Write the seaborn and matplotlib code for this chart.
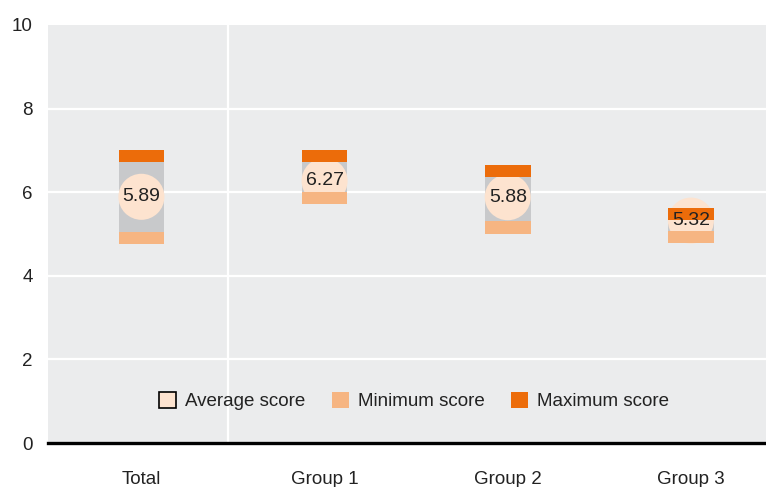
import matplotlib
matplotlib.use("Agg")
import matplotlib.pyplot as plt
import seaborn as sns
import pandas as pd
from matplotlib.patches import Patch

# Values
groups = ["Total", "Group 1", "Group 2", "Group 3"]
avg_score = [5.89, 6.27, 5.88, 5.32]
min_score = [4.76, 5.72, 5.01, 4.79]
max_score = [7.01, 7.01, 6.65, 5.62]

df = pd.DataFrame({"group": groups, "avg": avg_score, "min": min_score, "max": max_score})

sns.set_theme(style="white")
plt.rcParams["font.family"] = ["Liberation Sans", "DejaVu Sans"]

c_bg = "#ebeced"
c_range = "#c8c9cb"
c_avg = "#fde3cf"
c_min = "#f6b582"
c_max = "#ec6c0a"
c_text = "#222222"
band = 0.29
width = 0.25

fig = plt.figure(figsize=(7.66, 4.87), dpi=100)
ax = fig.add_axes([48 / 766, 44 / 487, 718 / 766, 418 / 487])
ax.set_facecolor(c_bg)

# range bars (min to max)
ax.bar(df["group"], df["max"] - df["min"], bottom=df["min"], width=width,
       color=c_range, edgecolor="none", linewidth=0, zorder=2)

# average circles
sns.scatterplot(data=df, x="group", y="avg", s=1100, color=c_avg,
                edgecolor="none", linewidth=0, zorder=3, ax=ax, legend=False)

# min and max bands
ax.bar(df["group"], band, bottom=df["min"], width=width, color=c_min,
       edgecolor="none", linewidth=0, zorder=4)
ax.bar(df["group"], band, bottom=df["max"] - band, width=width, color=c_max,
       edgecolor="none", linewidth=0, zorder=4)

for i, v in enumerate(df["avg"]):
    ax.text(i, v, f"{v:.2f}", ha="center", va="center", fontsize=14,
            color=c_text, zorder=5)

ax.set_ylim(0, 10)
ax.set_xlim(-0.51, 3.41)
ax.set_yticks([0, 2, 4, 6, 8, 10])
for y in [2, 4, 6, 8]:
    ax.axhline(y, color="white", lw=1.6, zorder=1)
ax.axvline(0.474, color="white", lw=1.6, zorder=1)

for s in ["top", "right", "left"]:
    ax.spines[s].set_visible(False)
ax.spines["bottom"].set_color("black")
ax.spines["bottom"].set_linewidth(2.4)
ax.spines["bottom"].set_zorder(6)

ax.tick_params(axis="both", length=0, labelsize=13.5, colors=c_text)
ax.tick_params(axis="y", pad=11)
ax.tick_params(axis="x", pad=20)
ax.set_xlabel("")
ax.set_ylabel("")

handles = [
    Patch(facecolor=c_avg, edgecolor="black", linewidth=1.2, label="Average score"),
    Patch(facecolor=c_min, edgecolor="none", label="Minimum score"),
    Patch(facecolor=c_max, edgecolor="none", label="Maximum score"),
]
ax.legend(handles=handles, loc="center", bbox_to_anchor=(0.51, 0.1), ncol=3,
          frameon=False, fontsize=13.5, handlelength=0.9, handleheight=0.9,
          handletextpad=0.5, columnspacing=1.4, labelcolor=c_text)

fig.savefig("out.png", dpi=100)
